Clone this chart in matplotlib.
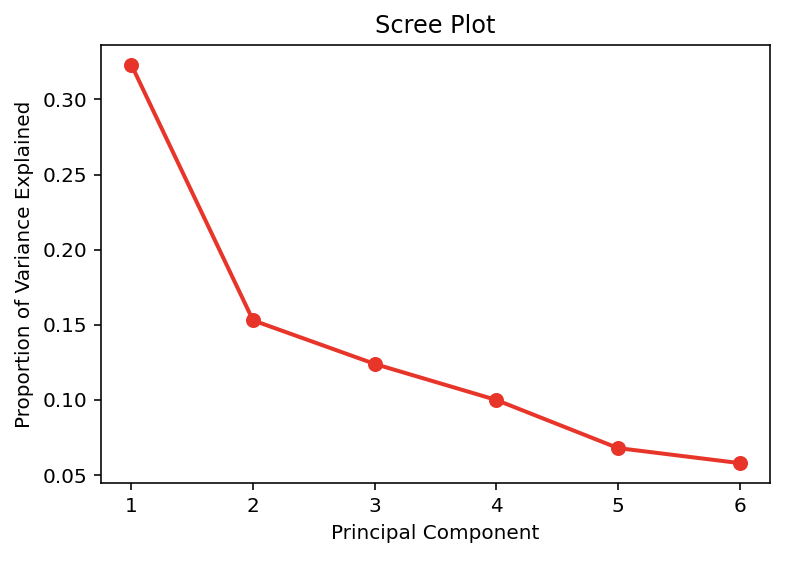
import numpy as np
import matplotlib.pyplot as plt

# data
components = [1, 2, 3, 4, 5, 6]
var_explained = [0.323, 0.153, 0.124, 0.100, 0.068, 0.058]

dpi = 144
fig = plt.figure(figsize=(806 / dpi, 566 / dpi), dpi=dpi)
ax = fig.add_axes([101 / 806, 1 - 483 / 566, (770 - 101) / 806, (483 - 45) / 566])

ax.plot(components, var_explained, 'o-', color='#e8352a', linewidth=2, markersize=6.5)

ax.set_title("Scree Plot")
ax.set_xlabel("Principal Component")
ax.set_ylabel("Proportion of Variance Explained")
ax.set_xticks(components)
ax.set_yticks([0.05, 0.10, 0.15, 0.20, 0.25, 0.30])

plt.savefig('out.png', dpi=dpi)
